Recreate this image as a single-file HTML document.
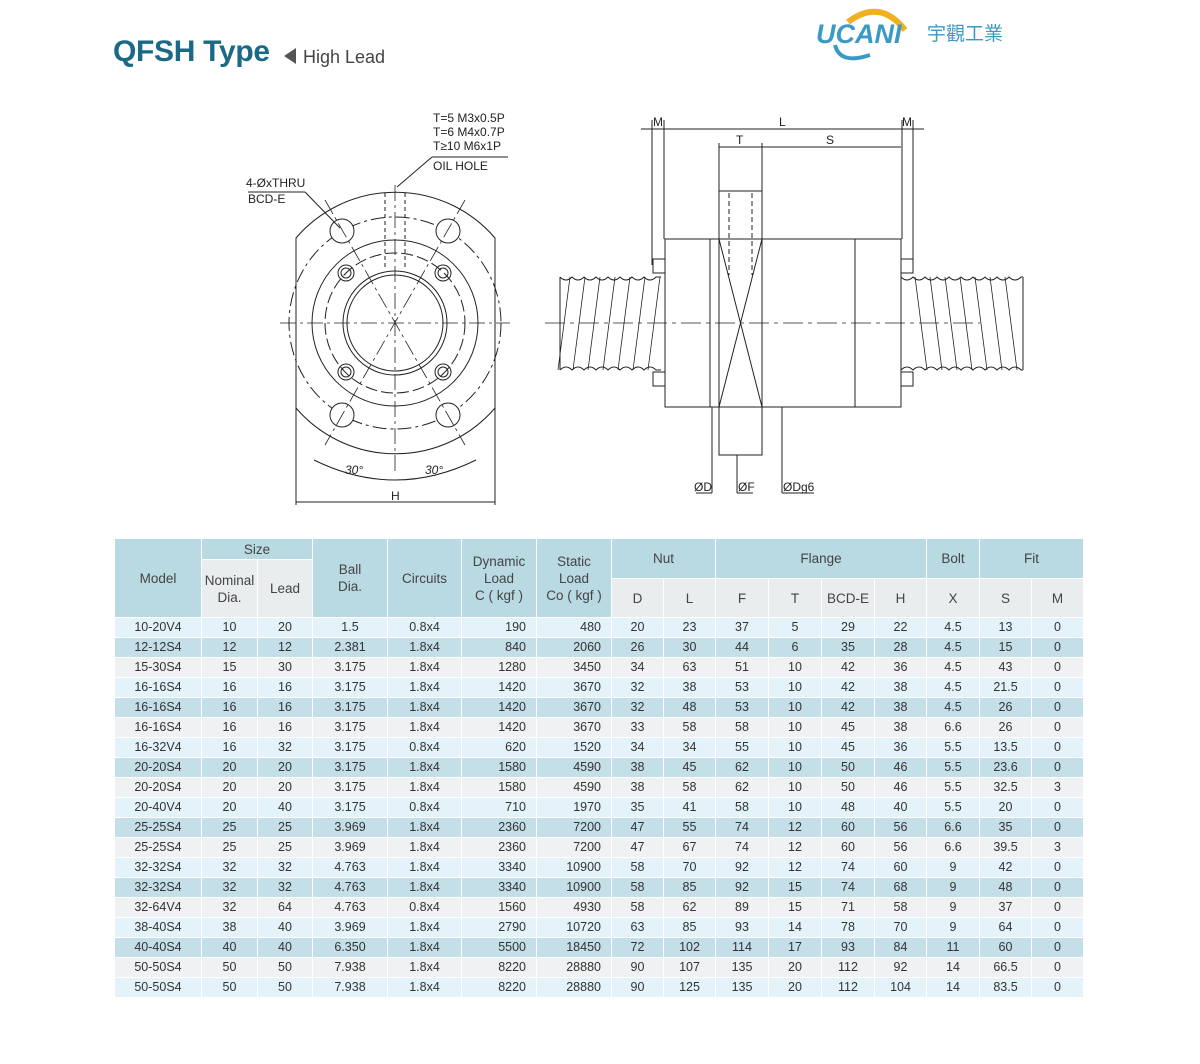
<!DOCTYPE html>
<html><head><meta charset="utf-8">
<style>
body{margin:0;width:1200px;height:1064px;background:#fff;position:relative;font-family:"Liberation Sans","Noto Sans CJK TC",sans-serif;overflow:hidden}
.t{position:absolute;white-space:nowrap}
table{position:absolute;left:114px;top:538px;border-collapse:collapse;table-layout:fixed;font-size:12.5px;color:#333}
td{border:1px solid #fff;text-align:center;padding:0;height:19px;line-height:19px}
tr.h td{background:#b9d9e3;color:#444;font-size:13.5px;line-height:17px}
tr.s td.g{background:#e9edee}
tr.a td{background:#e4f3f9}
tr.b td{background:#c4dfe8}
tr.c td{background:#eff1f2}
td.r{text-align:right;padding-right:10px}
</style></head><body>
<div class="t" style="left:113px;top:35px;font-size:30px;font-weight:bold;color:#1a6a85;letter-spacing:-0.3px">QFSH Type</div>
<div class="t" style="left:284px;top:48px;width:0;height:0;border-top:8px solid transparent;border-bottom:8px solid transparent;border-right:12px solid #555"></div>
<div class="t" style="left:303px;top:47px;font-size:18px;color:#444">High Lead</div>
<svg class="t" style="left:810px;top:0" width="210" height="70">
<path d="M848 22 Q880 -2 905 30" transform="translate(-810,0)" stroke="#f0b020" stroke-width="6" fill="none"/>
<path d="M835 45 Q840 65 870 55" transform="translate(-810,0)" stroke="#3a9ac4" stroke-width="4" fill="none"/>
<text x="6" y="43" font-size="27" font-weight="bold" font-style="italic" fill="#3a9ac4" font-family="Liberation Sans">UCANI</text>
<text x="117" y="40" font-size="19" fill="#3a9ac4" font-family="Noto Sans CJK TC">宇觀工業</text>
</svg>

<svg class="t" style="left:0;top:0" width="1200" height="520" font-family="Liberation Sans" font-size="12" fill="none" stroke="#222" stroke-width="1">
<!-- front view -->
<path d="M296 238 A131 131 0 0 1 495 238 L495 408 A131 131 0 0 1 296 408 Z"/>
<circle cx="395" cy="323" r="106" stroke-dasharray="14 4 3 4"/>
<circle cx="395" cy="323" r="83"/>
<circle cx="395" cy="323" r="70" stroke-dasharray="12 4"/>
<circle cx="395" cy="323" r="52"/>
<circle cx="395" cy="323" r="48"/>
<g fill="#fff"><circle cx="342" cy="231" r="12"/><circle cx="448" cy="231" r="12"/><circle cx="342" cy="415" r="12"/><circle cx="448" cy="415" r="12"/></g>
<g><circle cx="346" cy="273" r="8"/><circle cx="346" cy="273" r="5"/><circle cx="443" cy="273" r="8"/><circle cx="443" cy="273" r="5"/><circle cx="346" cy="372" r="8"/><circle cx="346" cy="372" r="5"/><circle cx="443" cy="372" r="8"/><circle cx="443" cy="372" r="5"/></g>
<g stroke-dasharray="16 4 3 4" stroke-width="0.8"><line x1="280" y1="323" x2="510" y2="323"/><line x1="395" y1="185" x2="395" y2="475"/><line x1="325" y1="200" x2="465" y2="445"/><line x1="465" y1="200" x2="325" y2="445"/></g>
<g stroke-dasharray="4 3"><line x1="385" y1="193" x2="385" y2="270"/><line x1="405" y1="193" x2="405" y2="270"/></g>
<path d="M314 460 Q395 500 476 460"/>
<line x1="296" y1="408" x2="296" y2="505"/><line x1="495" y1="408" x2="495" y2="505"/><line x1="296" y1="502" x2="495" y2="502"/>
<line x1="248" y1="192" x2="305" y2="192"/><line x1="305" y1="192" x2="340" y2="228"/>
<line x1="432" y1="157" x2="508" y2="157"/><line x1="432" y1="157" x2="397" y2="187"/>
<g fill="#222" stroke="none">
<text x="246" y="187">4-ØxTHRU</text><text x="248" y="203">BCD-E</text>
<text x="433" y="122">T=5 M3x0.5P</text><text x="433" y="136">T=6 M4x0.7P</text><text x="433" y="150">T≥10 M6x1P</text><text x="433" y="170">OIL HOLE</text>
<text x="345" y="474" font-style="italic">30°</text><text x="425" y="474" font-style="italic">30°</text><text x="391" y="500">H</text>
</g>
<!-- side view -->
<path d="M560 277 q6 6 12 0 q6 6 12 0 q6 6 12 0 q6 6 12 0 q6 6 12 0 q6 6 12 0 q6 6 12 0 q6 6 12 0 l5 0 M560 370 q6 -6 12 0 q6 -6 12 0 q6 -6 12 0 q6 -6 12 0 q6 -6 12 0 q6 -6 12 0 q6 -6 12 0 q6 -6 12 0 l5 0 M560 277 L560 370"/>
<path d="M901 277 q6 6 12 0 q6 6 12 0 q6 6 12 0 q6 6 12 0 q6 6 12 0 q6 6 12 0 q6 6 12 0 q6 6 12 0 q6 6 12 0 q6 6 12 0 l2 0 M901 370 q6 -6 12 0 q6 -6 12 0 q6 -6 12 0 q6 -6 12 0 q6 -6 12 0 q6 -6 12 0 q6 -6 12 0 q6 -6 12 0 q6 -6 12 0 q6 -6 12 0 l2 0 M1023 277 L1023 370"/>
<g stroke-width="0.8"><path d="M570 277 l-12 93 M585 277 l-12 93 M600 277 l-12 93 M615 277 l-12 93 M630 277 l-12 93 M645 277 l-12 93 M660 277 l-12 93 M915 277 l12 93 M930 277 l12 93 M945 277 l12 93 M960 277 l12 93 M975 277 l12 93 M990 277 l12 93 M1005 277 l12 93"/></g>
<rect x="665" y="239" width="236" height="168" fill="#fff"/>
<line x1="710" y1="239" x2="710" y2="407"/><line x1="855" y1="239" x2="855" y2="407"/>
<rect x="719" y="191" width="43" height="264" fill="#fff"/>
<line x1="719" y1="239" x2="762" y2="407"/><line x1="762" y1="239" x2="719" y2="407"/>
<line x1="719" y1="239" x2="762" y2="239"/><line x1="719" y1="407" x2="762" y2="407"/>
<g stroke-dasharray="5 3"><line x1="729" y1="193" x2="729" y2="275"/><line x1="752" y1="193" x2="752" y2="275"/></g>
<line x1="545" y1="323" x2="980" y2="323" stroke-dasharray="20 5 4 5" stroke-width="0.8"/>
<rect x="653" y="259" width="12" height="14"/><rect x="653" y="372" width="12" height="14"/><rect x="901" y="259" width="12" height="14"/><rect x="901" y="372" width="12" height="14"/>
<line x1="652" y1="120" x2="652" y2="265"/><line x1="664" y1="120" x2="664" y2="239"/><line x1="902" y1="120" x2="902" y2="239"/><line x1="913" y1="120" x2="913" y2="265"/>
<line x1="641" y1="129" x2="924" y2="129"/>
<line x1="719" y1="143" x2="719" y2="191"/><line x1="762" y1="143" x2="762" y2="191"/><line x1="719" y1="147" x2="901" y2="147"/>
<line x1="712" y1="407" x2="712" y2="493"/><line x1="696" y1="493" x2="712" y2="493"/>
<line x1="737" y1="455" x2="737" y2="493"/><line x1="737" y1="493" x2="753" y2="493"/>
<line x1="782" y1="407" x2="782" y2="493"/><line x1="782" y1="493" x2="814" y2="493"/>
<g fill="#222" stroke="none"><text x="653" y="126">M</text><text x="779" y="126">L</text><text x="902" y="126">M</text><text x="736" y="144">T</text><text x="826" y="144">S</text>
<text x="694" y="491">ØD</text><text x="738" y="491">ØF</text><text x="783" y="491">ØDg6</text></g>
</svg>

<table>
<colgroup><col style="width:87px"><col style="width:56px"><col style="width:55px"><col style="width:75px"><col style="width:74px"><col style="width:75px"><col style="width:75px"><col style="width:52px"><col style="width:52px"><col style="width:53px"><col style="width:53px"><col style="width:53px"><col style="width:52px"><col style="width:53px"><col style="width:52px"><col style="width:52px"></colgroup>
<tr class="h"><td rowspan="3" style="height:78px">Model</td><td colspan="2" style="height:20px">Size</td><td rowspan="3">Ball<br>Dia.</td><td rowspan="3">Circuits</td><td rowspan="3">Dynamic<br>Load<br>C ( kgf )</td><td rowspan="3">Static<br>Load<br>Co ( kgf )</td><td colspan="2" rowspan="2">Nut</td><td colspan="4" rowspan="2">Flange</td><td rowspan="2">Bolt</td><td colspan="2" rowspan="2">Fit</td></tr>
<tr class="h s"><td rowspan="2" class="g">Nominal<br>Dia.</td><td rowspan="2" class="g">Lead</td></tr>
<tr class="h s"><td class="g" style="height:38px">D</td><td class="g">L</td><td class="g">F</td><td class="g">T</td><td class="g">BCD-E</td><td class="g">H</td><td class="g">X</td><td class="g">S</td><td class="g">M</td></tr>
<tr class="a"><td>10-20V4</td><td>10</td><td>20</td><td>1.5</td><td>0.8x4</td><td class="r">190</td><td class="r">480</td><td>20</td><td>23</td><td>37</td><td>5</td><td>29</td><td>22</td><td>4.5</td><td>13</td><td>0</td></tr>
<tr class="b"><td>12-12S4</td><td>12</td><td>12</td><td>2.381</td><td>1.8x4</td><td class="r">840</td><td class="r">2060</td><td>26</td><td>30</td><td>44</td><td>6</td><td>35</td><td>28</td><td>4.5</td><td>15</td><td>0</td></tr>
<tr class="c"><td>15-30S4</td><td>15</td><td>30</td><td>3.175</td><td>1.8x4</td><td class="r">1280</td><td class="r">3450</td><td>34</td><td>63</td><td>51</td><td>10</td><td>42</td><td>36</td><td>4.5</td><td>43</td><td>0</td></tr>
<tr class="a"><td>16-16S4</td><td>16</td><td>16</td><td>3.175</td><td>1.8x4</td><td class="r">1420</td><td class="r">3670</td><td>32</td><td>38</td><td>53</td><td>10</td><td>42</td><td>38</td><td>4.5</td><td>21.5</td><td>0</td></tr>
<tr class="b"><td>16-16S4</td><td>16</td><td>16</td><td>3.175</td><td>1.8x4</td><td class="r">1420</td><td class="r">3670</td><td>32</td><td>48</td><td>53</td><td>10</td><td>42</td><td>38</td><td>4.5</td><td>26</td><td>0</td></tr>
<tr class="c"><td>16-16S4</td><td>16</td><td>16</td><td>3.175</td><td>1.8x4</td><td class="r">1420</td><td class="r">3670</td><td>33</td><td>58</td><td>58</td><td>10</td><td>45</td><td>38</td><td>6.6</td><td>26</td><td>0</td></tr>
<tr class="a"><td>16-32V4</td><td>16</td><td>32</td><td>3.175</td><td>0.8x4</td><td class="r">620</td><td class="r">1520</td><td>34</td><td>34</td><td>55</td><td>10</td><td>45</td><td>36</td><td>5.5</td><td>13.5</td><td>0</td></tr>
<tr class="b"><td>20-20S4</td><td>20</td><td>20</td><td>3.175</td><td>1.8x4</td><td class="r">1580</td><td class="r">4590</td><td>38</td><td>45</td><td>62</td><td>10</td><td>50</td><td>46</td><td>5.5</td><td>23.6</td><td>0</td></tr>
<tr class="c"><td>20-20S4</td><td>20</td><td>20</td><td>3.175</td><td>1.8x4</td><td class="r">1580</td><td class="r">4590</td><td>38</td><td>58</td><td>62</td><td>10</td><td>50</td><td>46</td><td>5.5</td><td>32.5</td><td>3</td></tr>
<tr class="a"><td>20-40V4</td><td>20</td><td>40</td><td>3.175</td><td>0.8x4</td><td class="r">710</td><td class="r">1970</td><td>35</td><td>41</td><td>58</td><td>10</td><td>48</td><td>40</td><td>5.5</td><td>20</td><td>0</td></tr>
<tr class="b"><td>25-25S4</td><td>25</td><td>25</td><td>3.969</td><td>1.8x4</td><td class="r">2360</td><td class="r">7200</td><td>47</td><td>55</td><td>74</td><td>12</td><td>60</td><td>56</td><td>6.6</td><td>35</td><td>0</td></tr>
<tr class="c"><td>25-25S4</td><td>25</td><td>25</td><td>3.969</td><td>1.8x4</td><td class="r">2360</td><td class="r">7200</td><td>47</td><td>67</td><td>74</td><td>12</td><td>60</td><td>56</td><td>6.6</td><td>39.5</td><td>3</td></tr>
<tr class="a"><td>32-32S4</td><td>32</td><td>32</td><td>4.763</td><td>1.8x4</td><td class="r">3340</td><td class="r">10900</td><td>58</td><td>70</td><td>92</td><td>12</td><td>74</td><td>60</td><td>9</td><td>42</td><td>0</td></tr>
<tr class="b"><td>32-32S4</td><td>32</td><td>32</td><td>4.763</td><td>1.8x4</td><td class="r">3340</td><td class="r">10900</td><td>58</td><td>85</td><td>92</td><td>15</td><td>74</td><td>68</td><td>9</td><td>48</td><td>0</td></tr>
<tr class="c"><td>32-64V4</td><td>32</td><td>64</td><td>4.763</td><td>0.8x4</td><td class="r">1560</td><td class="r">4930</td><td>58</td><td>62</td><td>89</td><td>15</td><td>71</td><td>58</td><td>9</td><td>37</td><td>0</td></tr>
<tr class="a"><td>38-40S4</td><td>38</td><td>40</td><td>3.969</td><td>1.8x4</td><td class="r">2790</td><td class="r">10720</td><td>63</td><td>85</td><td>93</td><td>14</td><td>78</td><td>70</td><td>9</td><td>64</td><td>0</td></tr>
<tr class="b"><td>40-40S4</td><td>40</td><td>40</td><td>6.350</td><td>1.8x4</td><td class="r">5500</td><td class="r">18450</td><td>72</td><td>102</td><td>114</td><td>17</td><td>93</td><td>84</td><td>11</td><td>60</td><td>0</td></tr>
<tr class="c"><td>50-50S4</td><td>50</td><td>50</td><td>7.938</td><td>1.8x4</td><td class="r">8220</td><td class="r">28880</td><td>90</td><td>107</td><td>135</td><td>20</td><td>112</td><td>92</td><td>14</td><td>66.5</td><td>0</td></tr>
<tr class="a"><td>50-50S4</td><td>50</td><td>50</td><td>7.938</td><td>1.8x4</td><td class="r">8220</td><td class="r">28880</td><td>90</td><td>125</td><td>135</td><td>20</td><td>112</td><td>104</td><td>14</td><td>83.5</td><td>0</td></tr>
</table>
</body></html>
